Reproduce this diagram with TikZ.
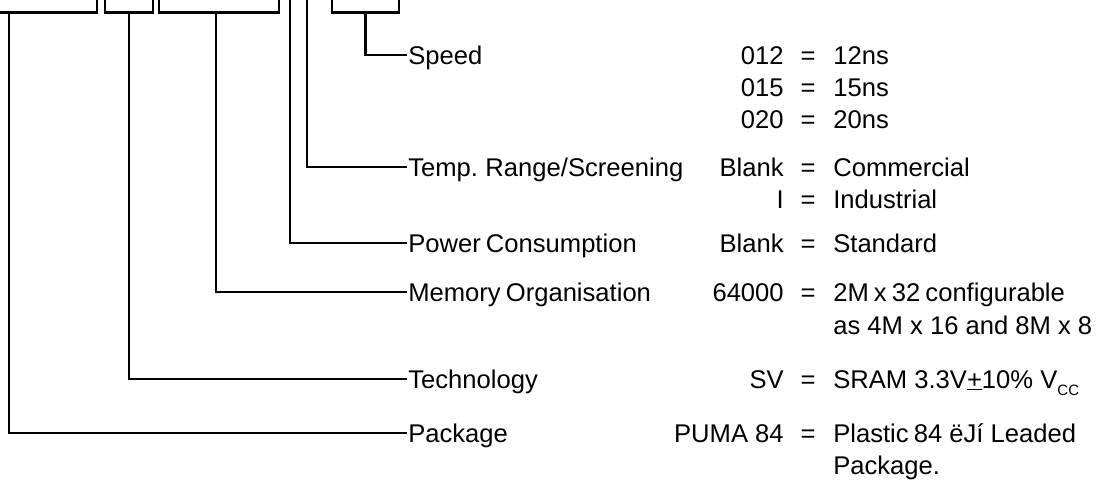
\documentclass[tikz,border=0pt]{standalone}
\usepackage{fontspec}
\setmainfont{Liberation Sans}
\begin{document}
\begin{tikzpicture}[x=1pt,y=-1pt,
  line width=2.6pt, line join=miter,
  every node/.style={font=\fontsize{25.6}{30}\selectfont, inner sep=0pt, text height=18.3pt, text depth=0pt},
  fieldbox/.style={draw, line width=2.6pt, anchor=south, minimum height=60pt},
  lbl/.style={anchor=west},
  keyt/.style={anchor=east},
  eqt/.style={anchor=center},
  valt/.style={anchor=west}]
\useasboundingbox (0,0) rectangle (1111,482);
\clip (0,0) rectangle (1111,482);
% field boxes (cut off at top)
\node[fieldbox, minimum width=176pt] (b1) at (9,14) {};
\node[fieldbox, minimum width=48pt] (b2) at (129,14) {};
\node[fieldbox, minimum width=120pt] (b3) at (219,14) {};
\node[fieldbox, minimum width=67pt] (b4) at (365.5,14) {};
\coordinate (v1) at (290,-10);
\coordinate (v2) at (307,-10);
% labels
\node[lbl] (speed) at (407,55) {Speed};
\node[lbl] (temp) at (407,167) {Temp.\hspace{-2pt} Range/Screening};
\node[lbl] (power) at (407,243) {Power\hspace{-2pt} Consumption};
\node[lbl] (mem) at (407,292) {Memory\hspace{-2pt} Organisation};
\node[lbl] (tech) at (407,379) {Technology};
\node[lbl] (pack) at (407,433) {Package};
% connectors
\draw (b4.south) |- (speed.west);
\draw (v2) |- (temp.west);
\draw (v1) |- (power.west);
\draw ([xshift=-3pt]b3.south) |- (mem.west);
\draw (b2.south) |- (tech.west);
\draw (b1.south) |- (pack.west);
% codes
\node[keyt] (k1) at (785,55) {012};
\node[eqt] (e1) at (808,55) {=};
\node[valt] (d1) at (832,55) {12ns};
\node[keyt] (k2) at (785,87) {015};
\node[eqt] (e2) at (808,87) {=};
\node[valt] (d2) at (832,87) {15ns};
\node[keyt] (k3) at (785,119) {020};
\node[eqt] (e3) at (808,119) {=};
\node[valt] (d3) at (832,119) {20ns};
\node[keyt] (k4) at (785,167) {Blank};
\node[eqt] (e4) at (808,167) {=};
\node[valt] (d4) at (832,167) {Commercial};
\node[keyt] (k5) at (785,199) {I};
\node[eqt] (e5) at (808,199) {=};
\node[valt] (d5) at (832,199) {Industrial};
\node[keyt] (k6) at (785,243) {Blank};
\node[eqt] (e6) at (808,243) {=};
\node[valt] (d6) at (832,243) {Standard};
\node[keyt] (k7) at (785,292) {64000};
\node[eqt] (e7) at (808,292) {=};
\node[valt] (d7) at (832,292) {2M\hspace{-2pt} x\hspace{-2pt} 32\hspace{-2pt} configurable};
\node[valt] (d7b) at (832,325) {as 4M x 16 and 8M x 8};
\node[keyt] (k8) at (785,379) {SV};
\node[eqt] (e8) at (808,379) {=};
\node[valt] (d8) at (832,379) {SRAM 3.3V\underline{+}10\% V\raisebox{-7pt}{\fontsize{15}{15}\selectfont CC}};
\node[keyt] (k9) at (785,433) {PUMA 84};
\node[eqt] (e9) at (808,433) {=};
\node[valt] (d9) at (832,433) {Plastic\hspace{-2pt} 84 ëJí Leaded};
\node[valt] (d9b) at (832,465) {Package.};
\end{tikzpicture}
\end{document}
